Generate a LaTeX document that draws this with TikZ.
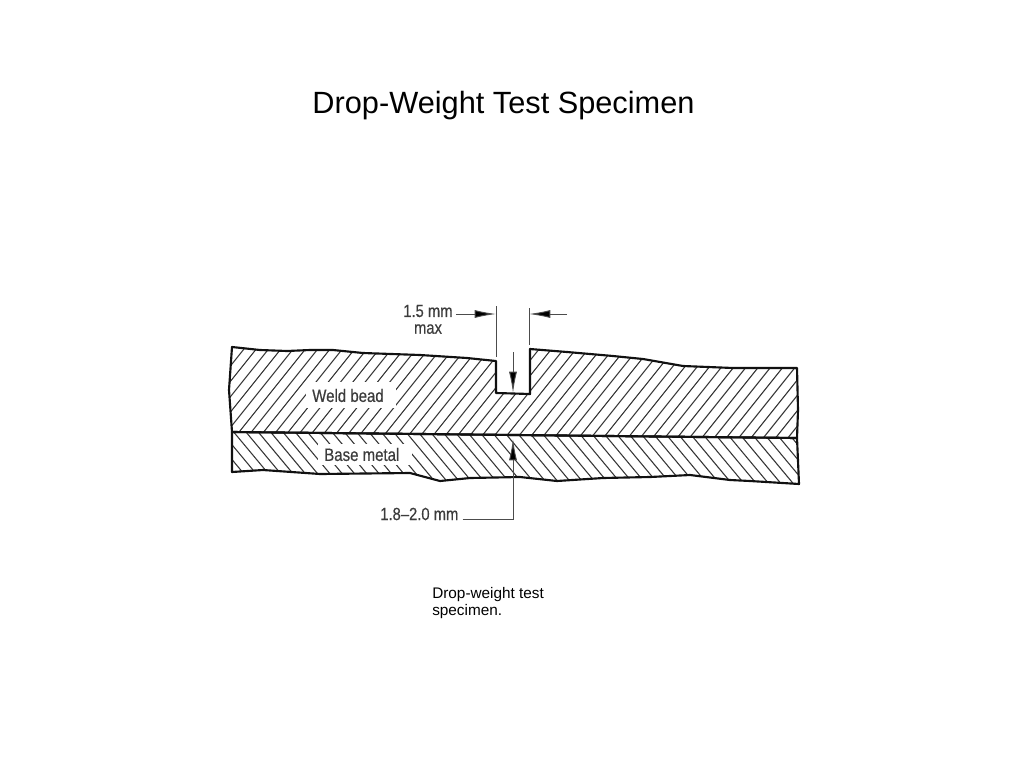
\documentclass[tikz,border=0pt]{standalone}
\usepackage{fontspec}
\setmainfont{Liberation Sans}
\newfontfamily\narrowf[FakeStretch=0.84,FakeBold=0.4]{Liberation Sans}
\usetikzlibrary{arrows.meta}
\definecolor{ink}{HTML}{111111}
\definecolor{labelgrey}{HTML}{3C3C3C}
\tikzset{
  outline/.style={draw=ink,line width=1.6pt,line join=round},
  hatchline/.style={draw=ink!85,line width=0.8pt},
  dimline/.style={draw=ink!75,line width=0.7pt},
  dimarrow/.style={dimline,-{Latex[length=16pt,width=6pt,fill=black]}},
  partlabel/.style={font=\narrowf\fontsize{13.4pt}{15pt}\selectfont,text=labelgrey,inner sep=0pt},
  dimlabel/.style={font=\narrowf\fontsize{13.2pt}{15pt}\selectfont,text=labelgrey,inner sep=0pt,align=center},
  titletext/.style={font=\fontsize{23.05pt}{27pt}\selectfont,text=black,inner sep=0pt},
  captiontext/.style={font=\fontsize{11.5pt}{12.9pt}\selectfont,text=black,inner sep=0pt,align=left,anchor=north west}
}
\begin{document}
\begin{tikzpicture}[x=0.75pt,y=-0.75pt]
\useasboundingbox (0,0) rectangle (1023,767);
\def\weldshape{(232,347) -- (260,350) -- (287,351) -- (310,350) -- (333,350) -- (363,353) -- (420,355) -- (467,358) -- (496,361)
  -- (496,393) -- (530,394) -- (530,349) -- (567,352) -- (613,356) -- (643,359) -- (683,366) -- (733,368) -- (797,368)
  -- (798,410) -- (797,438) -- (232,432) -- (229,390) -- cycle}
\def\baseshape{(232,432) -- (797,438) -- (799,484) -- (750,481) -- (730,480) -- (690,475) -- (650,477) -- (603,478)
  -- (557,481) -- (520,477) -- (470,478) -- (440,481) -- (410,473) -- (320,474) -- (263,470) -- (232,472) -- cycle}
\begin{scope}
  \clip \weldshape;
  \foreach \k in {-8,...,56}
    \draw[hatchline] ({222+12.3*\k},438) -- ({222+12.3*\k+80},338);
\end{scope}
\begin{scope}
  \clip \baseshape;
  \foreach \k in {-6,...,50}
    \draw[hatchline] ({232+12.3*\k},430) -- ({232+12.3*\k+50},490);
\end{scope}
\fill[white] (306,382) rectangle (396,408);
\fill[white] (318,444) rectangle (412,465);
\draw[outline] \weldshape;
\draw[outline] \baseshape;
\node[partlabel,anchor=west] (weld) at (312,395.5) {Weld bead};
\node[partlabel,anchor=west] (base) at (324,454.5) {Base metal};
\node[dimlabel,anchor=west] (width) at (403,311) {1.5 mm};
\node[dimlabel,anchor=north] (max) at (428,324) {max};
\node[dimlabel,anchor=west] (depth) at (380,514) {1.8–2.0 mm};
\coordinate (extL) at (496,306);
\coordinate (extLb) at (496,357);
\coordinate (extR) at (529,308);
\coordinate (extRb) at (529,345);
\coordinate (tipL) at (496,314);
\coordinate (tipR) at (529,314);
\coordinate (tailR) at (567,314);
\coordinate (nTop) at (513,352);
\coordinate (nTip) at (513,393);
\coordinate (dElbow) at (513,519);
\coordinate (dTip) at (513,439);
\draw[dimline] (extL) -- (extLb);
\draw[dimline] (extR) -- (extRb);
\draw[dimarrow] (width.east |- tipL) ++(3,0) -- (tipL);
\draw[dimarrow] (tailR) -- (tipR);
\draw[dimarrow] (nTop) -- (nTip);
\draw[dimarrow] (depth.east |- dElbow) ++(4,0) -- (dElbow) -- (dTip);
\node[titletext,anchor=center] (title) at (503.5,105.5) {Drop-Weight Test Specimen};
\node[captiontext] (caption) at (432,587) {Drop-weight test\\specimen.};
\end{tikzpicture}
\end{document}
